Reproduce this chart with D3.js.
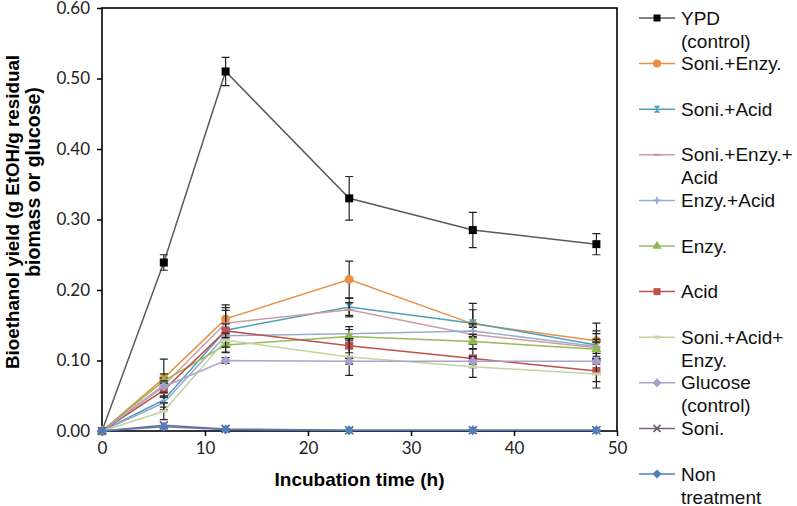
<!DOCTYPE html>
<html><head><meta charset="utf-8">
<script src="https://cdn.jsdelivr.net/npm/d3@7"></script>
<style>body{margin:0;background:#fff}svg{display:block}</style>
</head><body><svg id="c" width="797" height="506"></svg>
<script>
const times = [0, 6, 12, 24, 36, 48];
const seriesNames = ["YPD\n(control)", "Soni.+Enzy.", "Soni.+Acid", "Soni.+Enzy.+\nAcid", "Enzy.+Acid", "Enzy.", "Acid", "Soni.+Acid+\nEnzy.", "Glucose\n(control)", "Soni.", "Non\ntreatment"];
const ypd        = [0, 0.239, 0.510, 0.330, 0.285, 0.265];
const soniEnzy   = [0, 0.075, 0.159, 0.215, 0.152, 0.128];
const soniAcid   = [0, 0.044, 0.143, 0.176, 0.153, 0.122];
const soniEnzyAcid = [0, 0.065, 0.153, 0.172, 0.137, 0.118];
const enzyAcid   = [0, 0.040, 0.135, 0.138, 0.142, 0.120];
const enzy       = [0, 0.071, 0.122, 0.134, 0.127, 0.116];
const acid       = [0, 0.058, 0.142, 0.121, 0.103, 0.085];
const soniAcidEnzy = [0, 0.028, 0.129, 0.105, 0.091, 0.081];
const glucose    = [0, 0.063, 0.100, 0.099, 0.099, 0.099];
const soni       = [0, 0.008, 0.003, 0.001, 0.001, 0.001];
const nonTreat   = [0, 0.006, 0.002, 0.001, 0.001, 0.001];
const ypdErr        = [0, 0.011, 0.020, 0.031, 0.025, 0.015];
const soniEnzyErr   = [0, 0.027, 0.020, 0.026, 0.029, 0.025];
const soniAcidErr   = [0, 0.010, 0.032, 0.012, 0.019, 0.020];
const soniEnzyAcidErr = [0, 0.010, 0.018, 0.010, 0.010, 0.020];
const enzyAcidErr   = [0, 0.010, 0.010, 0.010, 0.010, 0.010];
const enzyErr       = [0, 0.010, 0.010, 0.010, 0.010, 0.010];
const acidErr       = [0, 0.010, 0.010, 0.010, 0.013, 0.015];
const soniAcidEnzyErr = [0, 0.012, 0.010, 0.026, 0.015, 0.020];
const glucoseErr    = [0, 0.008, 0.004, 0.004, 0.004, 0.004];
const soniErr       = [0, 0.002, 0.001, 0.001, 0.001, 0.001];
const nonTreatErr   = [0, 0.002, 0.001, 0.001, 0.001, 0.001];
const yTicks = [0, 0.1, 0.2, 0.3, 0.4, 0.5, 0.6];
const xTicks = [0, 10, 20, 30, 40, 50];

const values = [ypd, soniEnzy, soniAcid, soniEnzyAcid, enzyAcid, enzy, acid, soniAcidEnzy, glucose, soni, nonTreat];
const errs = [ypdErr, soniEnzyErr, soniAcidErr, soniEnzyAcidErr, enzyAcidErr, enzyErr, acidErr, soniAcidEnzyErr, glucoseErr, soniErr, nonTreatErr];
const lineColors = ["#5a5a5a", "#e39048", "#4e9fb5", "#cc9ea0", "#98abd0", "#98b95a", "#c0504d", "#c2d4a0", "#aba2cc", "#7f6084", "#4f7fbd"];
const markColors = ["#000000", "#e8913e", "#4aa3bc", "#c99395", "#8ea6d2", "#8fb74e", "#c0504d", "#c6d8a2", "#a99fcf", "#70587a", "#4f7fbd"];
const shapes = ["square", "circle", "hourglass", "dash", "plus", "triangle", "square", "dashw", "diamond", "x", "diamond"];

const svg = d3.select("#c");
const L = 102, R = 617, T = 8, B = 431;
const x = d3.scaleLinear().domain([0, 50]).range([L, R]);
const y = d3.scaleLinear().domain([0, 0.6]).range([B, T]);

function marker(g, shape, col, s) {
  if (shape === "square") g.append("rect").attr("x", -s/2).attr("y", -s/2).attr("width", s).attr("height", s).attr("fill", col);
  else if (shape === "circle") g.append("circle").attr("r", s/2 + 0.5).attr("fill", col);
  else if (shape === "triangle") g.append("path").attr("d", d3.symbol(d3.symbolTriangle, s*s*0.75)()).attr("fill", col);
  else if (shape === "diamond") g.append("path").attr("d", `M0,${-s/2-1}L${s/2+1},0L0,${s/2+1}L${-s/2-1},0Z`).attr("fill", col);
  else if (shape === "hourglass") g.append("path").attr("d", `M${-s/2},${-s/2}L${s/2},${-s/2}L${-s/2},${s/2}L${s/2},${s/2}Z`).attr("fill", col);
  else if (shape === "dash") g.append("rect").attr("x", -s/2).attr("y", -1).attr("width", s).attr("height", 2).attr("fill", col);
  else if (shape === "dashw") g.append("rect").attr("x", -s/2).attr("y", -1.5).attr("width", s).attr("height", 3).attr("fill", col);
  else if (shape === "plus") g.append("path").attr("d", `M${-s/2},0H${s/2}M0,${-s/2}V${s/2}`).attr("stroke", col).attr("stroke-width", 1.6);
  else if (shape === "x") g.append("path").attr("d", `M${-s/2},${-s/2}L${s/2},${s/2}M${s/2},${-s/2}L${-s/2},${s/2}`).attr("stroke", col).attr("stroke-width", 1.6);
}

// axes
const yAxis = d3.axisLeft(y).tickValues(yTicks).tickFormat(d3.format(".2f")).tickSize(5).tickPadding(7);
const gy = svg.append("g").attr("transform", `translate(${L},0)`).call(yAxis);
const xAxis = d3.axisBottom(x).tickValues(xTicks).tickSize(5).tickPadding(6);
const gx = svg.append("g").attr("transform", `translate(0,${B})`).call(xAxis);
[gx, gy].forEach(g => {
  g.select(".domain").remove();
  g.selectAll(".tick line").attr("stroke", "#000").attr("stroke-width", 1.5);
  g.selectAll(".tick text").attr("fill", "#222").style("font-family", "Lato, 'Open Sans', sans-serif").style("font-size", "17px");
});
svg.append("rect").attr("x", L).attr("y", T).attr("width", R - L).attr("height", B - T)
  .attr("fill", "none").attr("stroke", "#000").attr("stroke-width", 1.6);

// series
const line = d3.line().x((d, i) => x(times[i])).y(d => y(d));
values.forEach((vals, si) => {
  const g = svg.append("g");
  g.append("path").attr("d", line(vals)).attr("fill", "none").attr("stroke", lineColors[si]).attr("stroke-width", 1.5);
  vals.forEach((v, i) => {
    const e = errs[si][i];
    if (e > 0.003) {
      const cx = x(times[i]);
      g.append("path").attr("d", `M${cx},${y(v+e)}V${y(v-e)}M${cx-4},${y(v+e)}H${cx+4}M${cx-4},${y(v-e)}H${cx+4}`)
        .attr("stroke", "#222").attr("stroke-width", 1.2).attr("fill", "none");
    }
  });
  vals.forEach((v, i) => {
    marker(g.append("g").attr("transform", `translate(${x(times[i])},${y(v)})`), shapes[si], markColors[si], 8);
  });
});

// legend
const leg = svg.append("g");
seriesNames.forEach((name, i) => {
  const yy = 18 + i * 45.6;
  leg.append("line").attr("x1", 639).attr("x2", 675).attr("y1", yy).attr("y2", yy).attr("stroke", lineColors[i]).attr("stroke-width", 1.5);
  marker(leg.append("g").attr("transform", `translate(657,${yy})`), shapes[i], markColors[i], 7);
  name.split("\n").forEach((t, k) => {
    leg.append("text").attr("x", 681).attr("y", yy + k * 23 + 6.5).text(t)
      .style("font-family", "'Liberation Sans', Arial, sans-serif").style("font-size", "19px").attr("fill", "#111");
  });
});

// axis titles
svg.append("text").attr("x", (L + R) / 2).attr("y", 486).attr("text-anchor", "middle")
  .style("font-family", "'Liberation Sans', Arial, sans-serif").style("font-size", "19px").style("font-weight", "bold")
  .text("Incubation time (h)");
svg.append("text").attr("transform", "translate(19,212) rotate(-90)").attr("text-anchor", "middle")
  .style("font-family", "'Liberation Sans', Arial, sans-serif").style("font-size", "18.8px").style("font-weight", "bold")
  .text("Bioethanol yield (g EtOH/g residual");
svg.append("text").attr("transform", "translate(40,182) rotate(-90)").attr("text-anchor", "middle")
  .style("font-family", "'Liberation Sans', Arial, sans-serif").style("font-size", "19.5px").style("font-weight", "bold")
  .text("biomass or glucose)");
</script></body></html>
